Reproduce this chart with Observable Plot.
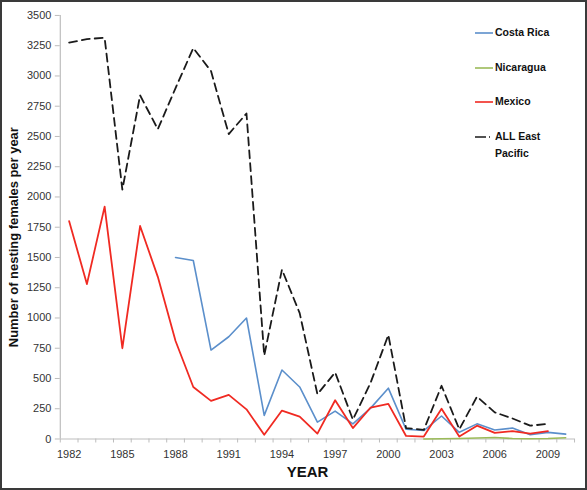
<!DOCTYPE html>
<html>
<head>
<meta charset="utf-8">
<script src="https://cdn.jsdelivr.net/npm/d3@7"></script>
<script src="https://cdn.jsdelivr.net/npm/@observablehq/plot@0.6"></script>
<style>
  html, body { margin: 0; padding: 0; background: #fff; }
  #wrap { position: relative; width: 587px; height: 490px; box-sizing: border-box; border: 2px solid #3a3a3a; font-family: "Liberation Sans", Arial, sans-serif; }
  #chart { position: absolute; left: -2px; top: -2px; }
  #legend { position: absolute; left: 472px; top: 25px; font-size: 10.5px; font-weight: bold; color: #111; }
  .item { position: absolute; left: 0; display: flex; align-items: flex-start; white-space: nowrap; }
  .item svg { margin-top: 3px; margin-right: 1px; }
</style>
</head>
<body>
<div id="wrap"><div id="chart"></div><div id="legend"></div></div>
<script>
const years = d3.range(1982, 2011);
const allEastPacific = [3275, 3305, 3315, 2060, 2840, 2560, 2900, 3230, 3040, 2520,
  2690, 690, 1400, 1040, 370, 550, 160, 465, 860, 90,
  75, 440, 80, 350, 220, 170, 110, 125, null];
const mexico = [1800, 1280, 1920, 750, 1760, 1340, 810, 430, 315, 365,
  245, 35, 235, 185, 45, 320, 90, 260, 290, 25,
  20, 250, 20, 110, 50, 65, 45, 65, null];
const costaRica = [null, null, null, null, null, null, 1500, 1475, 735, 845,
  1000, 195, 570, 430, 140, 230, 125, 255, 420, 80,
  70, 190, 55, 125, 75, 90, 35, 55, 40];
const nicaragua = [null, null, null, null, null, null, null, null, null, null,
  null, null, null, null, null, null, null, null, null, null,
  0, 2, 4, 8, 12, 4, 2, 4, 10];
const yTicks = d3.range(0, 3501, 250);
const xLabelTicks = d3.range(1982, 2010, 3);
const xTickMarks = d3.range(1981.5, 2011, 1);

const series = [
  {name: "Costa Rica", values: costaRica, color: "#5b8fcb", dash: null, width: 1.6},
  {name: "Nicaragua", values: nicaragua, color: "#9bbb59", dash: null, width: 1.6},
  {name: "Mexico", values: mexico, color: "#f02a22", dash: null, width: 1.8},
  {name: "ALL East Pacific", values: allEastPacific, color: "#1a1a1a", dash: "8,5", width: 1.8}
];
const table = s => years.map((y, i) => ({year: y, value: s.values[i]}));

const chart = Plot.plot({
  width: 587,
  height: 490,
  marginLeft: 60,
  marginRight: 11,
  marginTop: 15,
  marginBottom: 50,
  style: {fontFamily: "Liberation Sans, Arial, sans-serif", background: "transparent", color: "#333"},
  x: {domain: [1981.5, 2010.5]},
  y: {domain: [0, 3500]},
  marks: [
    Plot.ruleX([1981.5], {stroke: "#bdbdbd", strokeWidth: 1.2}),
    Plot.ruleY([0], {stroke: "#bdbdbd", strokeWidth: 1.2}),
    Plot.axisY({ticks: yTicks, tickSize: 5, tickPadding: 4, stroke: "#bdbdbd", fontSize: 11, tickFormat: d => String(d), label: null, fill: "#333"}),
    Plot.axisX({ticks: xTickMarks, tickSize: 4, tickFormat: () => "", stroke: "#bdbdbd", label: null}),
    Plot.axisX({ticks: xLabelTicks, tickSize: 0, tickPadding: 11, fontSize: 11, tickFormat: d => String(d), label: null, fill: "#333"}),
    Plot.text(["YEAR"], {frameAnchor: "bottom", dx: -10, dy: 38, fontWeight: "bold", fontSize: 15, fill: "#111", text: d => d}),
    Plot.text(["Number of nesting females per year"], {frameAnchor: "left", textAnchor: "middle", rotate: -90, dx: -47, dy: 10, fontWeight: "bold", fontSize: 13, fill: "#111", text: d => d}),
    ...series.map(s => Plot.line(table(s), {x: "year", y: "value", stroke: s.color, strokeWidth: s.width, strokeDasharray: s.dash}))
  ]
});
document.getElementById("chart").appendChild(chart);

const legend = document.getElementById("legend");
const legendTops = [0, 35, 69, 104];
series.forEach((s, i) => {
  const item = document.createElement("div");
  item.className = "item";
  item.style.top = legendTops[i] + "px";
  const sw = `<svg width="20" height="6"><line x1="1" x2="19" y1="3" y2="3" stroke="${s.color}" stroke-width="1.6" ${s.dash ? 'stroke-dasharray="11,3,1,5"' : ''}/></svg>`;
  const label = s.name === "ALL East Pacific" ? "ALL East<br>Pacific" : s.name;
  item.innerHTML = sw + `<span style="line-height:17px;margin-top:-3px">${label}</span>`;
  legend.appendChild(item);
});
</script>
</body>
</html>
